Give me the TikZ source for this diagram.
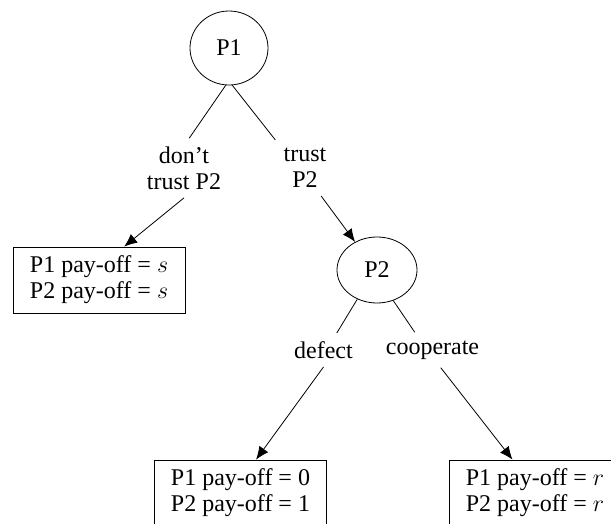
\documentclass[tikz,border=0pt]{standalone}
\usepackage{fontspec}
\setmainfont{Liberation Serif}
\usetikzlibrary{arrows.meta,shapes.geometric}
\tikzset{
player/.style={draw,ellipse,inner sep=0pt},
move/.style={align=center,inner sep=4pt},
payoff/.style={draw,align=center,minimum width=86pt,minimum height=33pt},
arr/.style={-{Latex[length=6.5pt,width=5.5pt]}}
}
\begin{document}
\begin{tikzpicture}[x=0.5pt,y=-0.5pt,font=\fontsize{12}{13}\selectfont]
\useasboundingbox (0,0) rectangle (611,524);
\path
(229,48)     node[player,minimum width=39pt,minimum height=37pt] (p1) {P1}
+(-45,120)   node[move] (dont) {don’t\\trust P2}
+(76,120)    node[move] (trust) {trust\\P2}
(99,280)     node[payoff] (boxs) {P1 pay-off = $s$\\P2 pay-off = $s$}
(377,270)    node[player,minimum width=40pt,minimum height=33pt] (p2) {P2}
+(-53.5,80)  node[move] (defect) {defect}
+(55.5,80)   node[move] (coop) {cooperate}
(240.5,493)  node[payoff] (box01) {P1 pay-off = 0\\P2 pay-off = 1}
(535,493)    node[payoff] (boxr) {P1 pay-off = $r$\\P2 pay-off = $r$}
;
\draw (p1.265)--(dont.80) (p1.275)--(trust.north west)
(p2.236)--(defect.52) (p2.298)--(coop.135)
;
\draw[arr] (dont.south)--(boxs.53);
\draw[arr] (trust.-60)--(p2.128);
\draw[arr] (defect.south)--(box01.65);
\draw[arr] (coop.-65)--(boxr.124);
\end{tikzpicture}
\end{document}
